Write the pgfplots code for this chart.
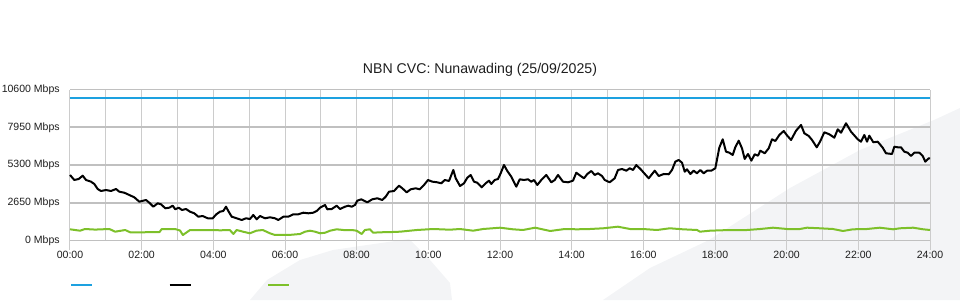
\documentclass[border=0pt]{standalone}
\usepackage{pgfplots}
\pgfplotsset{compat=1.18}
\usepackage{fontspec}
\setmainfont{Liberation Sans}
\definecolor{cvcblue}{RGB}{29,161,224}
\definecolor{cvcgreen}{RGB}{125,192,42}
\definecolor{vgrid}{RGB}{204,204,204}
\definecolor{hgrid}{RGB}{192,192,192}
\definecolor{swoosh}{RGB}{243,244,246}
\definecolor{txt}{RGB}{30,30,30}
\begin{document}
\begin{tikzpicture}
\useasboundingbox (0pt,0pt) rectangle (720pt,225pt);
% faint background shapes (1px = 0.75pt)
\begin{scope}[x=0.75pt,y=0.75pt]
\fill[swoosh] (603,0) -- (650,32) -- (709,60) -- (790,112) -- (860,150) -- (934,180) -- (960,192) -- (960,0) -- cycle;
\fill[swoosh] (250,0) -- (267,20) -- (300,40) -- (333,50) -- (367,55) -- (395,59) -- (409,61) -- (430,40) -- (450,17) -- (452,0) -- cycle;
\end{scope}
\node[font=\fontsize{10.6}{12}\selectfont, text=txt] at (360pt,172.5pt) {NBN CVC: Nunawading (25/09/2025)};
\begin{axis}[
  at={(52.5pt,44.7pt)}, anchor=south west,
  scale only axis, width=645pt, height=113.1pt,
  xmin=0, xmax=24, ymin=0, ymax=10600,
  scaled x ticks=false, scaled y ticks=false,
  axis line style={draw=none},
  xtick={0,2,...,24},
  xticklabels={00:00,02:00,04:00,06:00,08:00,10:00,12:00,14:00,16:00,18:00,20:00,22:00,24:00},
  minor xtick={1,3,...,23},
  ytick={0,2650,5300,7950,10600},
  yticklabels={0 Mbps,2650 Mbps,5300 Mbps,7950 Mbps,10600 Mbps},
  tick align=outside,
  major tick length=7.5pt, minor tick length=0pt,
  xtick pos=bottom, ytick pos=left,
  xtick style={draw=vgrid, line width=0.75pt},
  ytick style={draw=none},
  tick label style={font=\fontsize{7.9}{9}\selectfont, text=txt},
  xticklabel style={inner sep=0.5pt},
  yticklabel style={inner sep=0pt},
  xmajorgrids, xminorgrids, ymajorgrids,
  every axis x grid/.append style={draw=vgrid, line width=0.75pt},
  every axis y grid/.append style={draw=hgrid, line width=1.2pt},
  clip=false,
  legend columns=3,
  legend style={at={(0,-0.296)}, anchor=west, draw=none, fill=none, inner xsep=0pt, inner ysep=0pt, font=\fontsize{7.9}{9}\selectfont,
    /tikz/every even column/.append style={column sep=0pt}},
  legend image code/.code={\draw[#1] (0pt,0pt) -- (15.75pt,0pt);},
  every axis plot/.append style={line width=1.5pt, line join=round, mark=none},
]
\addplot[cvcblue] coordinates {(0,10000) (24,10000)};
\addlegendentry{\rule{52.6pt}{0pt}}
\addplot[black] coordinates {
(0,4598) (0.12,4246) (0.243,4316) (0.354,4548) (0.447,4246) (0.586,4127) (0.678,3965) (0.773,3613) (0.865,3473) (1.005,3543)
(1.144,3473) (1.284,3613) (1.376,3424) (1.515,3353) (1.655,3192) (1.794,3030) (1.934,2721) (2.046,2791) (2.121,2840) (2.213,2650)
(2.325,2369) (2.447,2608) (2.54,2538) (2.66,2257) (2.771,2299) (2.866,2439) (2.939,2186) (3.033,2299) (3.126,2137) (3.237,2207)
(3.349,2018) (3.469,1905) (3.58,1666) (3.703,1715) (3.843,1554) (3.982,1554) (4.083,1835) (4.186,2018) (4.278,2067) (4.354,2369)
(4.418,2067) (4.513,1666) (4.652,1554) (4.792,1434) (4.912,1554) (5.023,1504) (5.115,1786) (5.21,1483) (5.302,1715) (5.442,1554)
(5.581,1624) (5.721,1554) (5.813,1434) (5.953,1666) (6.092,1666) (6.232,1835) (6.371,1835) (6.511,1947) (6.65,1905) (6.79,1947)
(6.885,2067) (6.977,2299) (7.117,2489) (7.181,2186) (7.304,2207) (7.443,2439) (7.535,2207) (7.674,2369) (7.767,2439) (7.861,2369)
(7.953,2489) (8.018,2791) (8.129,2889) (8.297,2678) (8.436,2889) (8.576,2960) (8.715,2840) (8.81,3072) (8.902,3424) (9.042,3473)
(9.181,3845) (9.273,3663) (9.396,3381) (9.508,3592) (9.647,3663) (9.759,3592) (9.879,3895) (9.991,4246) (10.111,4127) (10.25,4084)
(10.362,4014) (10.457,4246) (10.577,4176) (10.624,4478) (10.697,4949) (10.764,4366) (10.884,3824) (10.995,4014) (11.088,4408) (11.182,4598)
(11.274,4127) (11.366,4056) (11.489,3733) (11.6,4014) (11.693,4197) (11.757,3965) (11.852,4246) (11.944,4316) (12.019,4717) (12.111,5301)
(12.204,4879) (12.315,4478) (12.455,3775) (12.55,4295) (12.67,4246) (12.781,4295) (12.874,4127) (12.949,4246) (13.041,3895) (13.153,4246)
(13.292,4598) (13.432,4084) (13.527,4246) (13.619,4598) (13.758,4127) (13.898,4084) (14.037,4197) (14.13,4759) (14.252,4527) (14.344,4366)
(14.437,4668) (14.549,4879) (14.643,4598) (14.735,4717) (14.847,4527) (14.922,4246) (15.061,4084) (15.201,4366) (15.293,4949) (15.405,5019)
(15.525,4900) (15.62,5069) (15.712,4949) (15.804,5301) (15.944,4949) (16.067,4598) (16.15,4366) (16.318,4900) (16.43,4527) (16.569,4668)
(16.708,4647) (16.8,4949) (16.893,5533) (16.988,5652) (17.08,5462) (17.155,4830) (17.219,4998) (17.312,4668) (17.406,4900) (17.498,4717)
(17.59,4949) (17.685,4717) (17.777,4900) (17.897,4900) (18.009,5069) (18.12,6517) (18.215,7107) (18.307,6236) (18.399,6165) (18.494,6004)
(18.566,6545) (18.661,7009) (18.753,6475) (18.829,5722) (18.921,6074) (19.014,5603) (19.108,6053) (19.2,5954) (19.265,6306) (19.388,6123)
(19.499,6475) (19.591,7107) (19.684,6988) (19.795,7410) (19.918,7691) (20.0,7410) (20.122,7058) (20.262,7712) (20.401,8113) (20.493,7529)
(20.616,7339) (20.708,7058) (20.839,6545) (20.931,6939) (21.051,7599) (21.19,7459) (21.33,7220) (21.425,7810) (21.517,7571) (21.656,8232)
(21.796,7642) (21.983,7107) (22.075,6939) (22.167,7410) (22.242,6939) (22.306,7360) (22.418,6896) (22.541,6939) (22.68,6517) (22.772,6123)
(22.94,6074) (23.004,6587) (23.099,6545) (23.191,6545) (23.283,6236) (23.378,6165) (23.47,5933) (23.562,6165) (23.702,6165) (23.797,5933)
(23.869,5533) (23.964,5772) (24,5772)
};
\addlegendentry{\rule{52.6pt}{0pt}}
\addplot[cvcgreen] coordinates {
(0,780) (0.28,682) (0.42,801) (0.7,760) (1.1,801) (1.26,612) (1.54,731) (1.68,569) (2.0,569) (2.5,590)
(2.56,801) (2.93,801) (3.07,696) (3.15,380) (3.35,731) (3.6,731) (3.9,731) (4.2,710) (4.46,731) (4.56,450)
(4.65,731) (4.83,612) (5.02,499) (5.2,682) (5.38,731) (5.58,499) (5.72,380) (6.1,380) (6.42,450) (6.56,612)
(6.7,682) (6.84,612) (6.98,499) (7.12,541) (7.26,682) (7.44,780) (7.63,731) (7.86,731) (8.0,682) (8.14,450)
(8.23,731) (8.37,780) (8.46,541) (8.65,569) (9.0,590) (9.21,612) (9.68,731) (10.14,801) (10.6,752) (10.88,801)
(11.25,682) (11.53,801) (12.0,893) (12.36,780) (12.64,731) (12.98,893) (13.4,661) (13.81,801) (14.15,780) (14.51,801)
(14.88,851) (15.29,963) (15.63,801) (15.99,801) (16.38,731) (16.74,851) (17.1,780) (17.5,731) (17.58,612) (17.86,682)
(18.42,731) (18.89,731) (19.26,801) (19.62,893) (20.01,801) (20.37,801) (20.57,893) (20.93,851) (21.29,801) (21.57,661)
(21.85,780) (22.24,801) (22.6,893) (22.97,780) (23.16,851) (23.53,893) (23.81,780) (24,731)
};
\addlegendentry{\rule{52.6pt}{0pt}}
\end{axis}
\end{tikzpicture}
\end{document}
